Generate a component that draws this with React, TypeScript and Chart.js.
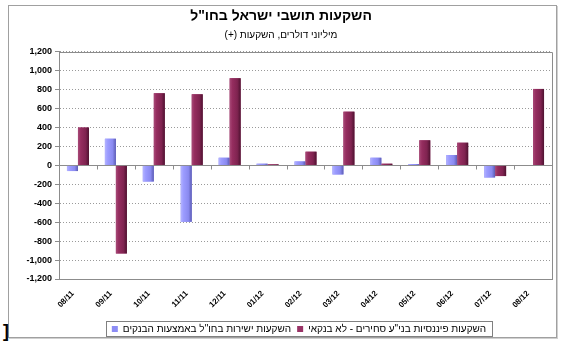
import React, { useEffect, useRef } from "react";
import { Chart, registerables } from "chart.js";

Chart.register(...registerables);

// ---- data ----
const categories = ["08/11", "09/11", "10/11", "11/11", "12/11", "01/12", "02/12", "03/12", "04/12", "05/12", "06/12", "07/12", "08/12"];
const bankDirect = [-60, 282, -170, -596, 81, 18, 42, -95, 81, 14, 109, -127, 0];
const nonBankSecurities = [400, -930, 762, 751, 921, 11, 145, 568, 18, 265, 240, -113, 808];
const yMin = -1200;
const yMax = 1200;
const yStep = 200;
const seriesLabels = ['השקעות ישירות בחו"ל באמצעות הבנקים', 'השקעות פיננסיות בני"ע סחירים - לא בנקאי'];
const titleText = 'השקעות תושבי ישראל בחו"ל';
const subtitleText = "\u200Fמיליוני דולרים, השקעות (+)\u200F";

const FONT = "Arial, 'Liberation Sans', sans-serif";
const BLUE = "#8c8cf5";
const MAROON = "#993366";
const gradStops: Record<number, string[]> = {
  0: ["#b4b4ff", "#9c9cff", "#8a8af0", "#5c5cb4"],
  1: ["#a84a78", "#952d5f", "#7f2350", "#4e1230"],
};
const LEGEND_SHIFT = 18;

const framePlugin = {
  id: "frame",
  afterLayout(chart: any) {
    const lg = chart.legend;
    if (lg) {
      lg.left += LEGEND_SHIFT;
      lg.right += LEGEND_SHIFT;
    }
  },
  beforeDatasetsDraw(chart: any) {
    const { ctx, chartArea: a, scales } = chart;
    const x = scales.x;
    const y0 = Math.round(scales.y.getPixelForValue(0)) + 0.5;
    ctx.save();
    ctx.strokeStyle = "#8c8c8c";
    ctx.lineWidth = 1;
    ctx.beginPath();
    ctx.moveTo(a.left, y0);
    ctx.lineTo(a.right, y0);
    for (let i = 0; i < categories.length - 1; i++) {
      const bx = Math.round((x.getPixelForValue(i) + x.getPixelForValue(i + 1)) / 2) + 0.5;
      ctx.moveTo(bx, y0);
      ctx.lineTo(bx, y0 + 4);
    }
    ctx.stroke();
    ctx.restore();
  },
  afterDatasetsDraw(chart: any) {
    const { ctx, chartArea: a } = chart;
    ctx.save();
    ctx.beginPath();
    ctx.rect(a.left, a.top, a.right - a.left, a.bottom - a.top);
    ctx.clip();
    chart.data.datasets.forEach((_: any, di: number) => {
      const meta = chart.getDatasetMeta(di);
      meta.data.forEach((el: any) => {
        const { x, y, base, width } = el.getProps(["x", "y", "base", "width"], true);
        const left = x - width / 2;
        const top = Math.min(y, base);
        const h = Math.abs(base - y);
        if (h < 0.5) return;
        const g = ctx.createLinearGradient(left, 0, left + width, 0);
        const s = gradStops[di];
        g.addColorStop(0, s[0]);
        g.addColorStop(0.25, s[1]);
        g.addColorStop(0.7, s[2]);
        g.addColorStop(1, s[3]);
        ctx.fillStyle = g;
        ctx.fillRect(left, top, width, h);
      });
    });
    ctx.restore();
    // top and right border of plot area
    ctx.save();
    ctx.strokeStyle = "#8c8c8c";
    ctx.lineWidth = 1;
    ctx.beginPath();
    ctx.moveTo(a.left, Math.round(a.top) + 0.5);
    ctx.lineTo(Math.round(a.right) + 0.5, Math.round(a.top) + 0.5);
    ctx.lineTo(Math.round(a.right) + 0.5, a.bottom);
    ctx.stroke();
    ctx.restore();
  },
  afterDraw(chart: any) {
    const lg = chart.legend;
    if (!lg || !lg.legendHitBoxes || !lg.legendHitBoxes.length) return;
    const boxes = lg.legendHitBoxes;
    let l = Infinity, r = -Infinity, t = Infinity, b = -Infinity;
    boxes.forEach((hb: any) => {
      l = Math.min(l, hb.left);
      r = Math.max(r, hb.left + hb.width);
      t = Math.min(t, hb.top);
      b = Math.max(b, hb.top + hb.height);
    });
    const { ctx } = chart;
    ctx.save();
    ctx.strokeStyle = "#808080";
    ctx.lineWidth = 1;
    ctx.strokeRect(Math.round(l - 6) + 0.5, Math.round(t - 3) + 0.5, Math.round(r - l + 12), Math.round(b - t + 5));
    ctx.restore();
  },
};

export default function App() {
  const ref = useRef<HTMLCanvasElement | null>(null);

  useEffect(() => {
    if (!ref.current) return;
    const chart = new Chart(ref.current, {
      type: "bar",
      data: {
        labels: categories,
        datasets: [
          { label: seriesLabels[0], data: bankDirect, backgroundColor: BLUE, borderWidth: 0 },
          { label: seriesLabels[1], data: nonBankSecurities, backgroundColor: MAROON, borderWidth: 0 },
        ],
      },
      options: {
        responsive: false,
        animation: false,
        devicePixelRatio: 1,
        datasets: { bar: { categoryPercentage: 0.58, barPercentage: 1.0 } },
        layout: { padding: { left: 10, right: 14, top: 0, bottom: 3 } },
        plugins: {
          tooltip: { enabled: false },
          title: {
            display: true,
            text: titleText,
            color: "#000",
            font: { family: FONT, size: 14, weight: "bold" },
            padding: { top: 8, bottom: 0 },
          },
          subtitle: {
            display: true,
            text: subtitleText,
            color: "#000",
            font: { family: FONT, size: 10 },
            padding: { top: 4, bottom: 11 },
          },
          legend: {
            position: "bottom",
            labels: {
              boxWidth: 6,
              boxHeight: 6,
              padding: 6,
              color: "#000",
              font: { family: FONT, size: 10 },
            },
          },
        },
        scales: {
          x: {
            afterFit: (s: any) => { s.height = 39; },
            grid: { display: true, drawOnChartArea: false, drawTicks: false },
            border: { display: true, color: "#8c8c8c", width: 1 },
            ticks: {
              color: "#000",
              font: { family: FONT, size: 8, weight: "bold" },
              maxRotation: 45,
              minRotation: 45,
              padding: 10,
              labelOffset: -5,
              autoSkip: false,
            },
          },
          y: {
            min: yMin,
            max: yMax,
            afterFit: (s: any) => { s.width = 49; },
            grid: {
              color: "#9a9a9a",
              lineWidth: 1,
              tickLength: 4,
              tickColor: "#8c8c8c",
              tickBorderDash: [],
            },
            border: { display: true, color: "#8c8c8c", width: 1, dash: [1, 2] },
            ticks: {
              stepSize: yStep,
              color: "#000",
              padding: 3,
              font: { family: FONT, size: 9, weight: "bold" },
              callback: (v: any) => Number(v).toLocaleString("en-US"),
            },
          },
        },
      },
      plugins: [framePlugin],
    });
    return () => chart.destroy();
  }, []);

  return (
    <div style={{ position: "absolute", left: 0, top: 0, width: 566, height: 347, background: "#fff" }}>
      <div
        style={{
          position: "absolute",
          left: 8,
          top: 5,
          width: 547,
          height: 331,
          border: "1px solid #a0a0a0",
          boxShadow: "1px 1px 0 #d0d0d0",
        }}
      />
      <span
        style={{
          position: "absolute",
          left: 3,
          top: 321,
          fontFamily: FONT,
          fontSize: 18,
          fontWeight: "bold",
          color: "#000",
          lineHeight: "20px",
        }}
      >
        ]
      </span>
      <canvas ref={ref} width={566} height={347} style={{ position: "absolute", left: 0, top: 0, width: 566, height: 347 }} />
    </div>
  );
}
